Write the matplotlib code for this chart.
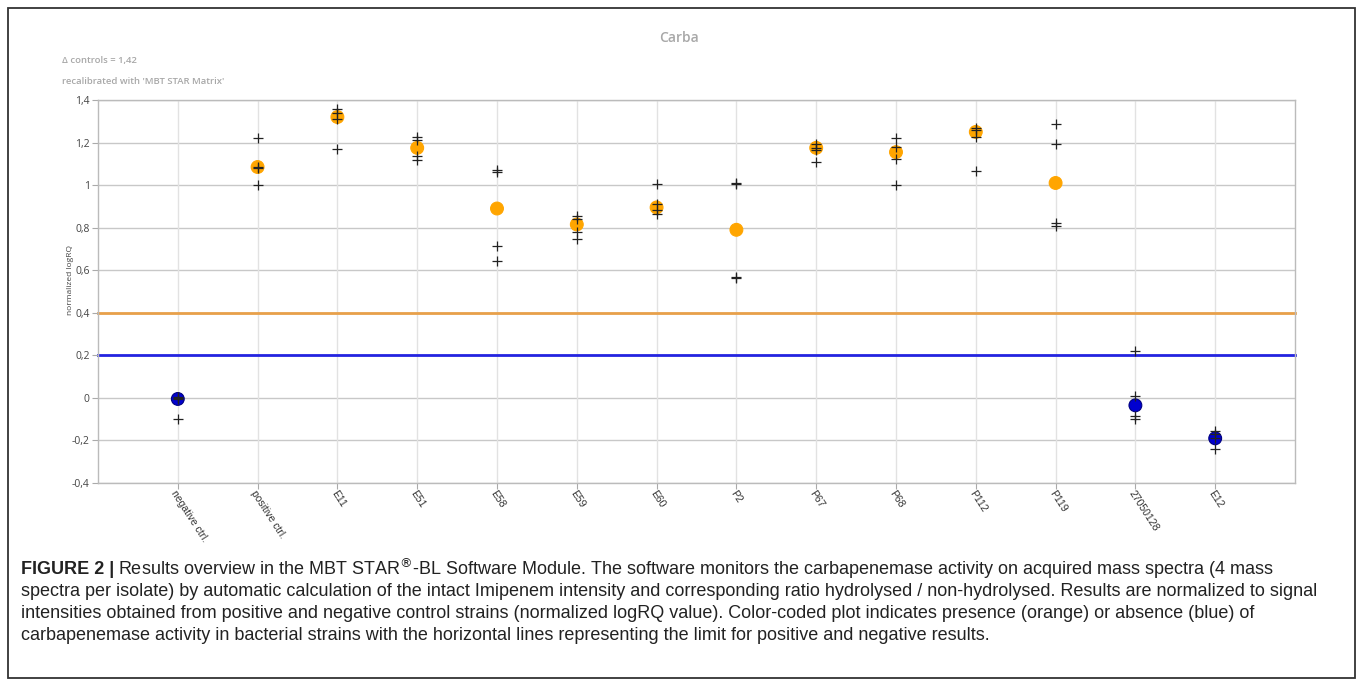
import matplotlib
matplotlib.use("Agg")
import matplotlib.pyplot as plt
from matplotlib.patches import Rectangle

# isolates on the x axis
isolates = ["negative ctrl.", "positive ctrl.", "E11", "E51", "E58", "E59", "E60",
            "P2", "P67", "P68", "P112", "P119", "27050128", "E12"]
# mean normalized logRQ (circles)
means = [-0.005, 1.085, 1.32, 1.175, 0.89, 0.815, 0.895,
         0.79, 1.175, 1.155, 1.25, 1.01, -0.035, -0.19]
# single spectra (+ markers), 4 per isolate
rep1 = [0.0, 1.22, 1.36, 1.225, 1.07, 0.855, 1.005, 1.008, 1.195, 1.22, 1.27, 1.285, 0.22, -0.155]
rep2 = [-0.005, 1.085, 1.34, 1.21, 1.06, 0.84, 0.91, 1.004, 1.175, 1.18, 1.26, 1.195, 0.01, -0.17]
rep3 = [0.005, 1.08, 1.31, 1.135, 0.715, 0.78, 0.885, 0.57, 1.165, 1.125, 1.225, 0.82, -0.085, -0.19]
rep4 = [-0.10, 1.0, 1.17, 1.12, 0.645, 0.745, 0.865, 0.565, 1.11, 1.0, 1.065, 0.81, -0.10, -0.24]

pos_limit = 0.4
neg_limit = 0.2
yticks = [1.4, 1.2, 1.0, 0.8, 0.6, 0.4, 0.2, 0.0, -0.2, -0.4]
ytick_labels = ["1,4", "1,2", "1", "0,8", "0,6", "0,4", "0,2", "0", "-0,2", "-0,4"]

caption = [
    "Results overview in the MBT STAR$^{\\circledR}$-BL Software Module. The software monitors the carbapenemase activity on acquired mass spectra (4 mass",
    "spectra per isolate) by automatic calculation of the intact Imipenem intensity and corresponding ratio hydrolysed / non-hydrolysed. Results are normalized to signal",
    "intensities obtained from positive and negative control strains (normalized logRQ value). Color-coded plot indicates presence (orange) or absence (blue) of",
    "carbapenemase activity in bacterial strains with the horizontal lines representing the limit for positive and negative results.",
]

W, H = 1357, 681
fig = plt.figure(figsize=(W / 100, H / 100), dpi=100)
fig.patch.set_facecolor("white")

# outer frame
fig.patches.append(Rectangle((8 / W, 3 / H), 1347 / W, 670 / H, transform=fig.transFigure,
                             fill=False, edgecolor="#333333", linewidth=1.3))

ax = fig.add_axes([98 / W, 1 - 483 / H, (1295 - 98) / W, (483 - 100) / H])
x = list(range(len(isolates)))

ax.set_xlim(-1, len(isolates))
ax.set_ylim(-0.4, 1.4)
ax.set_yticks(yticks)
ax.set_yticklabels(ytick_labels, fontsize=7.5, color="#444444", family="Open Sans")
ax.set_xticks(x)
ax.set_xticklabels(isolates, rotation=-57, rotation_mode="anchor", ha="left", va="top",
                   fontsize=7.5, color="#333333", family="Liberation Sans")
ax.tick_params(axis="both", length=4, color="#aaaaaa", width=0.8)
ax.tick_params(axis="y", pad=2)
ax.tick_params(axis="x", pad=0)

for y in yticks:
    ax.axhline(y, color="#c8c8c8", lw=1.0, zorder=0)
for xi in x:
    ax.axvline(xi, color="#e2e2e2", lw=1.0, zorder=0)
for s in ax.spines.values():
    s.set_color("#bbbbbb")
    s.set_linewidth(1.0)

ax.axhline(pos_limit, color="#e8a04a", lw=2.0, zorder=1, clip_on=False)
ax.axhline(neg_limit, color="#2424e0", lw=2.0, zorder=1, clip_on=False)

cols = ["#ffa500" if m > pos_limit else "#0000d0" for m in means]
edges = ["#ffa500" if m > pos_limit else "#000080" for m in means]
ax.scatter(x, means, s=85, c=cols, edgecolors=edges, linewidths=0.8, zorder=3)
for rep in (rep1, rep2, rep3, rep4):
    ax.scatter(x, rep, marker="+", s=55, c="#222222", linewidths=0.9, zorder=4)

ax.set_ylabel("normalized logRQ", fontsize=6, color="#444444", family="Open Sans")
ax.yaxis.set_label_coords(-0.02, 0.53)

fig.text(679 / W, 1 - 38 / H, "Carba", ha="center", va="center", fontsize=10,
         color="#a8a8a8", family="Open Sans", weight="semibold")
fig.text(62 / W, 1 - 61 / H, "\u0394 controls = 1,42", ha="left", va="center", fontsize=6.8,
         color="#a8a8a8", family="Open Sans", weight="semibold")
fig.text(62 / W, 1 - 82 / H, "recalibrated with 'MBT STAR Matrix'", ha="left", va="center",
         fontsize=6.8, color="#a8a8a8", family="Open Sans", weight="semibold")

# caption: fit font size so the longest line matches the reference width
cap_font = "Liberation Sans"
line_y = [569, 591, 613, 635]
probe = fig.text(0, 0, caption[1], fontsize=10, family=cap_font)
fig.canvas.draw()
w10 = probe.get_window_extent().width
probe.remove()
cap_size = 10 * (1325 - 21) / w10

bold = fig.text(21 / W, 1 - line_y[0] / H, "FIGURE 2 |", ha="left", va="center",
                fontsize=cap_size, weight="bold", family=cap_font, color="#222222")
fig.canvas.draw()
bb = bold.get_window_extent()
fig.text((bb.x1 + 4) / W, 1 - line_y[0] / H, caption[0], ha="left", va="center",
         fontsize=cap_size, family=cap_font, color="#222222")
for ly, txt in zip(line_y[1:], caption[1:]):
    fig.text(21 / W, 1 - ly / H, txt, ha="left", va="center", fontsize=cap_size,
             family=cap_font, color="#222222")

fig.savefig("out.png", dpi=100)
